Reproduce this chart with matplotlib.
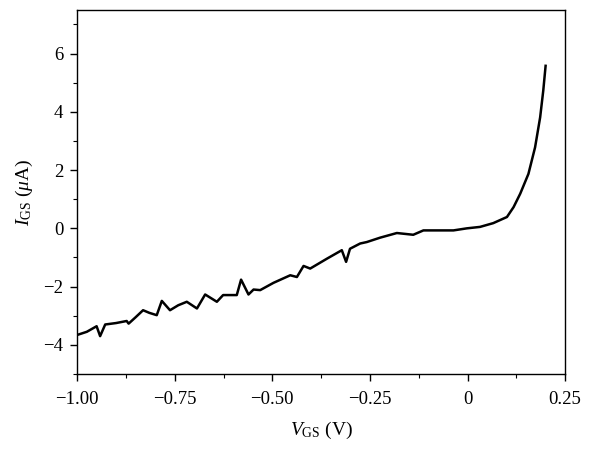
import matplotlib
matplotlib.use("Agg")
import matplotlib.pyplot as plt
import numpy as np
from matplotlib.ticker import MultipleLocator, FuncFormatter

# gate voltage (V) and gate current (uA)
v_gs = [-1.000, -0.975, -0.950, -0.941, -0.928, -0.900, -0.873, -0.868, -0.850,
        -0.831, -0.815, -0.796, -0.783, -0.762, -0.741, -0.719, -0.693, -0.672,
        -0.642, -0.626, -0.591, -0.580, -0.561, -0.548, -0.531, -0.497, -0.454,
        -0.437, -0.420, -0.403, -0.360, -0.322, -0.311, -0.301, -0.275, -0.258,
        -0.224, -0.181, -0.139, -0.113, -0.079, -0.036, -0.002, 0.032, 0.066,
        0.101, 0.118, 0.135, 0.156, 0.173, 0.186, 0.194, 0.200]
i_gs = [-3.66, -3.55, -3.36, -3.70, -3.30, -3.25, -3.18, -3.27, -3.05,
        -2.81, -2.90, -2.98, -2.49, -2.81, -2.64, -2.52, -2.75, -2.27,
        -2.52, -2.29, -2.29, -1.76, -2.27, -2.10, -2.12, -1.87, -1.61,
        -1.67, -1.29, -1.38, -1.04, -0.75, -1.15, -0.70, -0.52, -0.47,
        -0.32, -0.16, -0.22, -0.07, -0.07, -0.07, 0.00, 0.05, 0.18,
        0.39, 0.73, 1.19, 1.87, 2.78, 3.81, 4.73, 5.58]

x_ticks = [-1.00, -0.75, -0.50, -0.25, 0, 0.25]
x_labels = ["\u22121.00", "\u22120.75", "\u22120.50", "\u22120.25", "0", "0.25"]

plt.rcParams['font.family'] = ['Liberation Serif', 'DejaVu Serif']
plt.rcParams['mathtext.fontset'] = 'custom'
plt.rcParams['mathtext.rm'] = 'Liberation Serif'
plt.rcParams['mathtext.it'] = 'Liberation Serif:italic'

fig = plt.figure(figsize=(5.93, 4.49), dpi=100)
ax = fig.add_axes([0.130, 0.167, 0.823, 0.811])

ax.plot(v_gs, i_gs, color='black', linewidth=1.8)

ax.set_xlim(-1.0, 0.25)
ax.set_ylim(-5, 7.5)
ax.set_xticks(x_ticks)
ax.set_xticklabels(x_labels)
ax.xaxis.set_minor_locator(MultipleLocator(0.125))
ax.yaxis.set_major_locator(MultipleLocator(2))
ax.yaxis.set_minor_locator(MultipleLocator(1))
ax.yaxis.set_major_formatter(FuncFormatter(lambda y, p: f"{y:.0f}".replace("-", "\u2212")))
ax.tick_params(which='major', direction='out', length=5, width=1, labelsize=13.5, colors='black')
ax.tick_params(axis='x', which='major', pad=7)
ax.tick_params(axis='y', which='major', pad=5)
ax.tick_params(which='minor', direction='out', length=3, width=0.8)
for s in ax.spines.values():
    s.set_linewidth(1.0)

ax.set_xlabel(r"$\mathit{V}_{\mathrm{GS}}$ (V)", fontsize=14, labelpad=9)
ax.set_ylabel(r"$\mathit{I}_{\mathrm{GS}}$ ($\mathit{\mu}$A)", fontsize=14, labelpad=6)

fig.savefig("out.png", dpi=100)
